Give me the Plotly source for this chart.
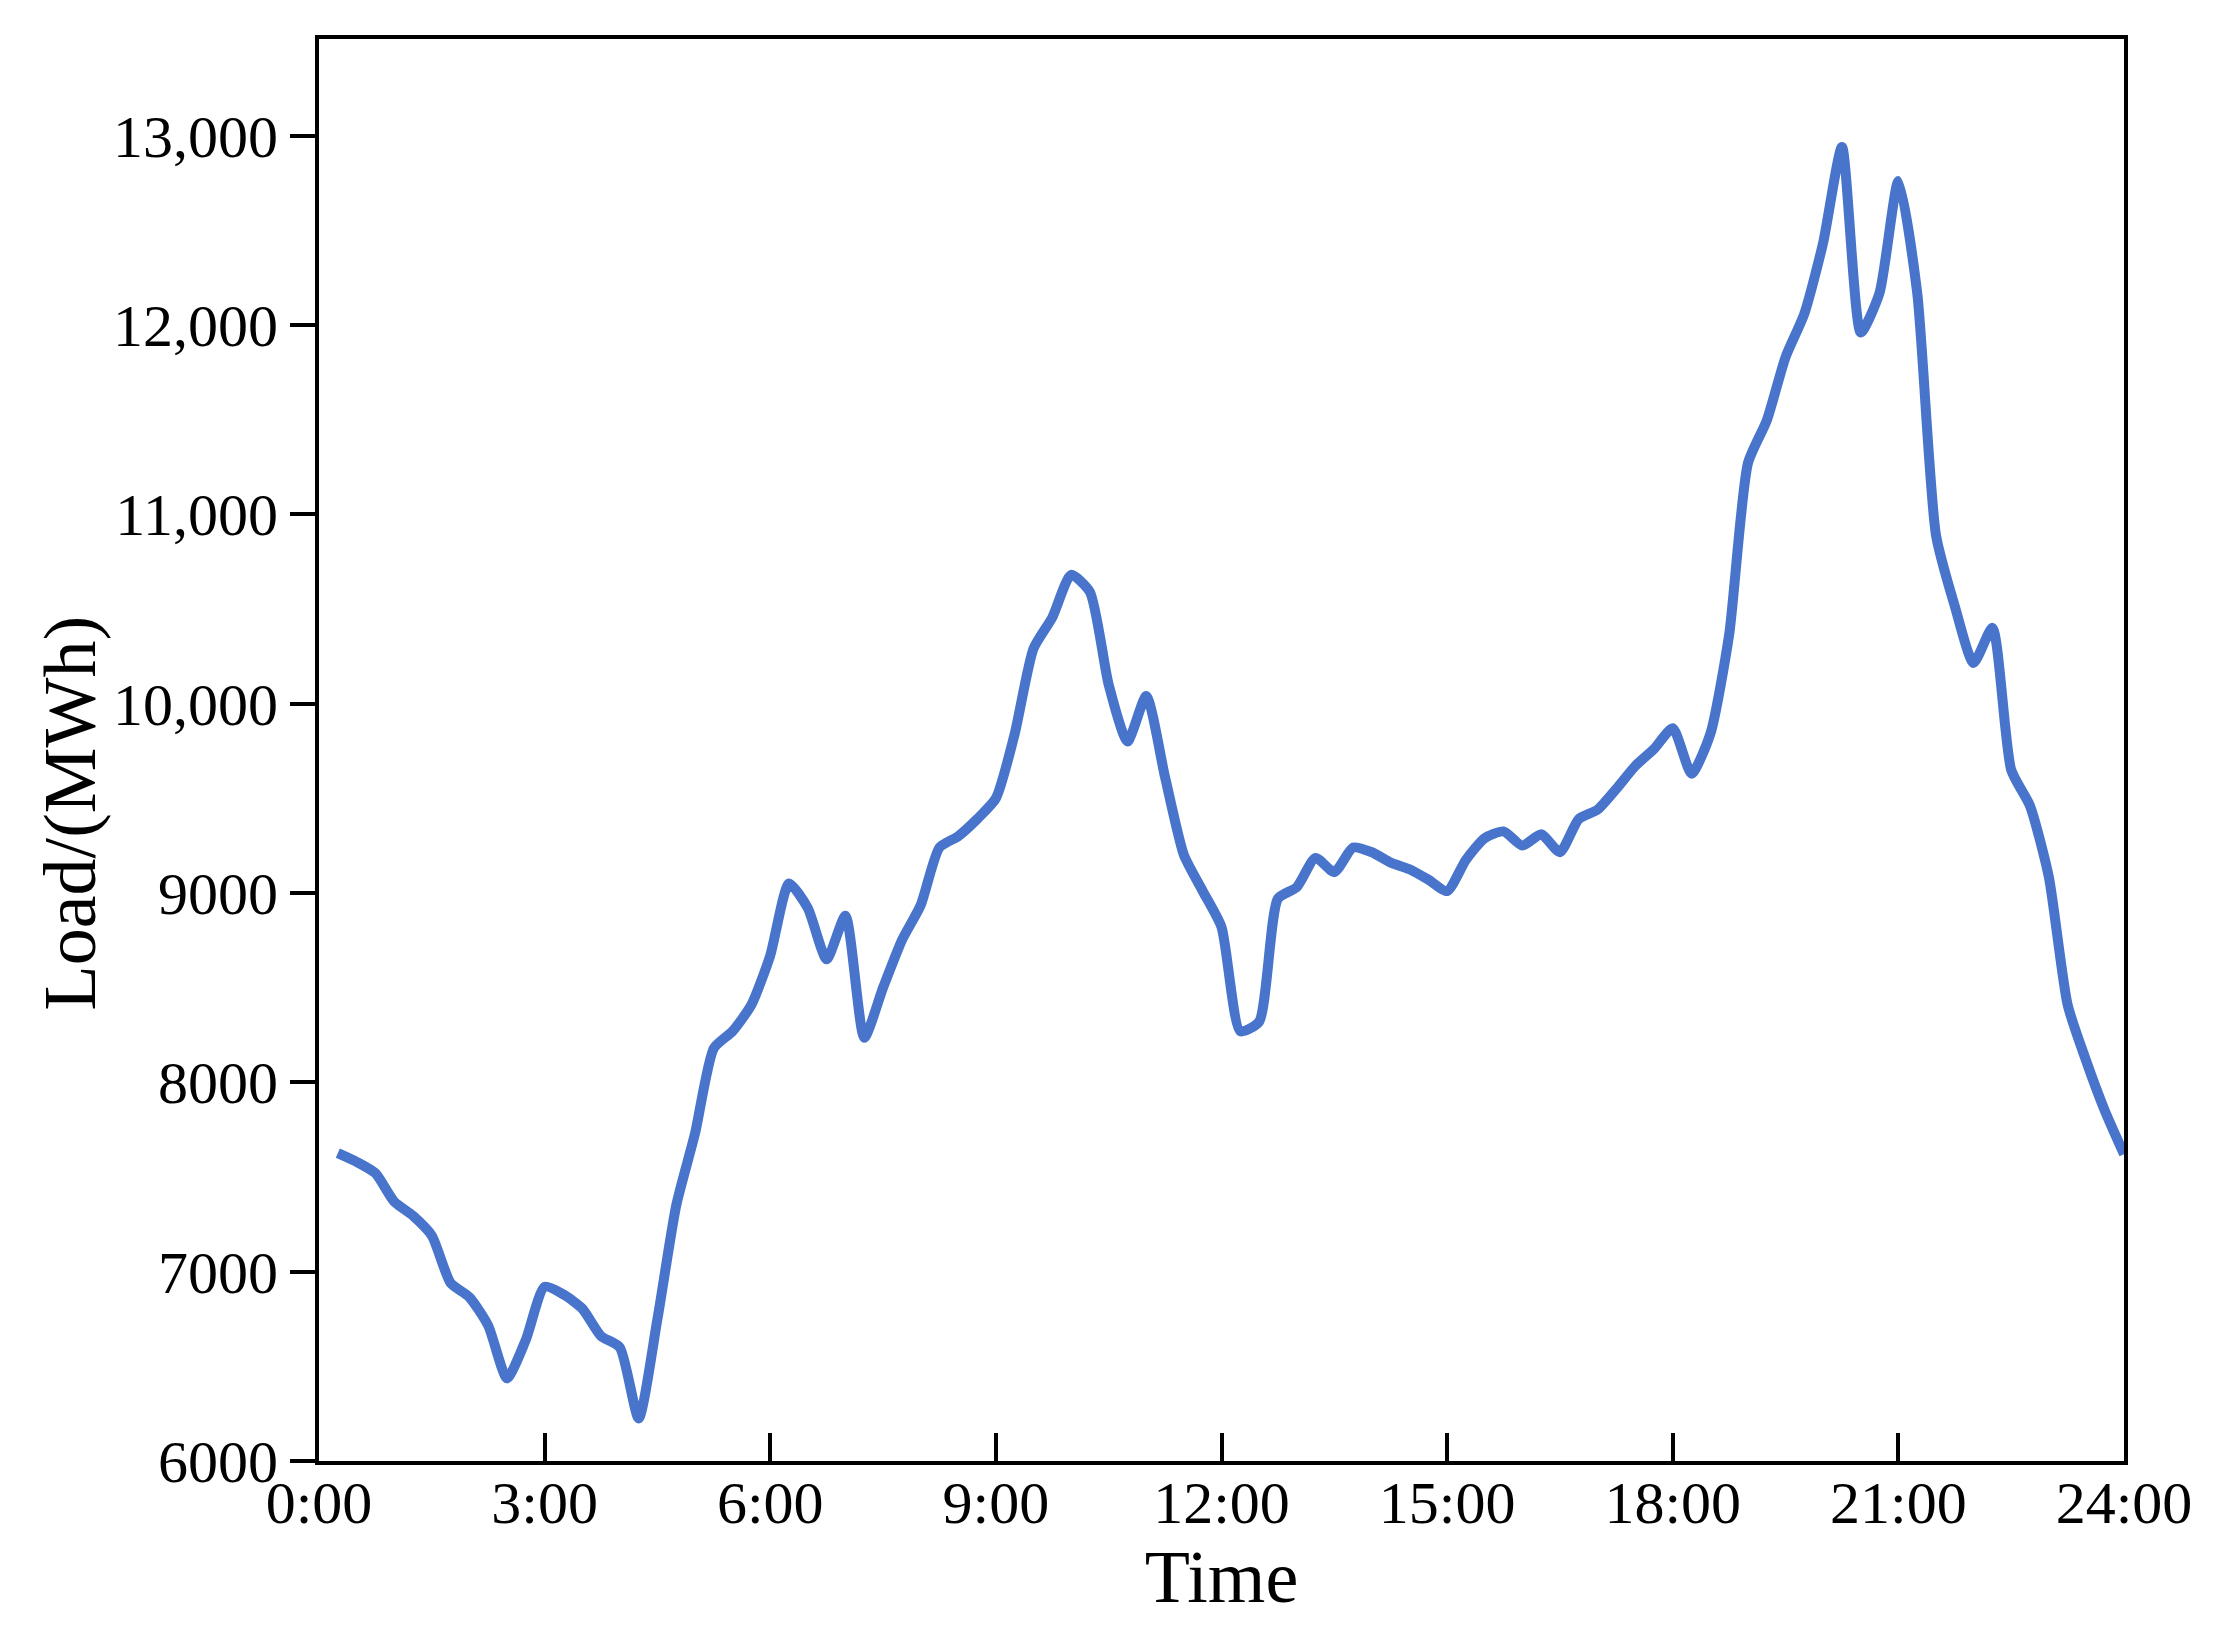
import plotly.graph_objects as go

# 15-minute load readings, 0:15 .. 24:00
hours = [i * 0.25 for i in range(1, 97)]
load = [
    7626, 7580, 7520, 7370, 7295, 7190, 6940, 6865,
    6715, 6437, 6640, 6920, 6880, 6805, 6660, 6600,
    6225, 6750, 7350, 7730, 8180, 8270, 8410, 8670,
    9050, 8920, 8650, 8880, 8235, 8500, 8750, 8935,
    9240, 9300, 9390, 9500, 9840, 10290, 10455, 10680,
    10590, 10100, 9800, 10040, 9610, 9200, 9010, 8820,
    8270, 8320, 8970, 9030, 9185, 9110, 9240, 9215,
    9160, 9125, 9070, 9010, 9175, 9290, 9325, 9250,
    9310, 9215, 9390, 9440, 9550, 9670, 9760, 9870,
    9630, 9840, 10365, 11270, 11495, 11830, 12060, 12435,
    12940, 11960, 12170, 12760, 12170, 10890, 10515, 10215,
    10400, 9650, 9460, 9085, 8410, 8110, 7845, 7620,
]

x_tickvals = [0, 3, 6, 9, 12, 15, 18, 21, 24]
x_ticktext = ["0:00", "3:00", "6:00", "9:00", "12:00", "15:00", "18:00", "21:00", "24:00"]
y_tickvals = [6000, 7000, 8000, 9000, 10000, 11000, 12000, 13000]
y_ticktext = ["6000", "7000", "8000", "9000", "10,000", "11,000", "12,000", "13,000"]

fig = go.Figure()
fig.add_trace(go.Scatter(
    x=hours, y=load,
    mode="lines",
    line=dict(color="#4874CB", width=10, shape="spline", smoothing=0.6),
    showlegend=False,
))

font = "Liberation Serif, Times New Roman, serif"
fig.update_layout(
    width=2234, height=1627,
    margin=dict(l=311, r=118, t=31, b=174),
    paper_bgcolor="white", plot_bgcolor="white",
    font=dict(family=font, color="black", size=60),
)
fig.update_xaxes(
    range=[0, 24], tickvals=x_tickvals, ticktext=x_ticktext,
    ticks="inside", ticklen=28, tickwidth=4, tickcolor="black",
    showline=True, linewidth=4, linecolor="black", mirror=True,
    showgrid=False, zeroline=False,
    tickfont=dict(size=60), ticklabelstandoff=-14,
    title=dict(text="Time", font=dict(size=74), standoff=5),
)
fig.update_yaxes(
    range=[6000, 13510], tickvals=y_tickvals, ticktext=y_ticktext,
    ticks="outside", ticklen=25, tickwidth=4, tickcolor="black",
    showline=True, linewidth=4, linecolor="black", mirror=True,
    showgrid=False, zeroline=False,
    tickfont=dict(size=60),
)

# y-axis title sits a little below the plot centre in the original
fig.add_annotation(
    text="Load/(MWh)", textangle=-90,
    xref="paper", yref="paper", x=-0.138, y=0.456,
    xanchor="center", yanchor="middle", showarrow=False,
    font=dict(size=74, family=font, color="black"),
)

fig.write_html("out.html")
